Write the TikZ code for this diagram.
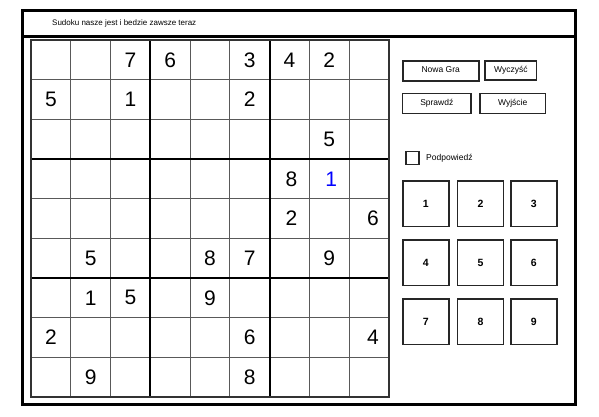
\documentclass[tikz,border=0pt]{standalone}
\usepackage{fontspec}
\setmainfont{Liberation Sans}
\usetikzlibrary{positioning}

\tikzset{
  cellnum/.style={font=\fontsize{21}{24}\selectfont, inner sep=0pt},
  btn/.style={draw=black!85, line width=1.6pt, fill=white, inner sep=0pt, text height=6.3pt, text depth=1.8pt, font=\fontsize{8.5}{10}\selectfont},
  padkey/.style={draw=black!85, line width=1.6pt, inner sep=0pt, minimum width=46pt, minimum height=45.7pt, font=\bfseries\fontsize{10.5}{12}\selectfont}
}

\begin{document}
\begin{tikzpicture}[x=1pt,y=-1pt]
\useasboundingbox (0,0) rectangle (599,416);
% window frame and title bar
\draw [black, line width=3pt] (22,10) rectangle (575,404);
\draw [black, line width=3pt] (22,36) -- (577,36);
\node [anchor=west, inner sep=0pt, font=\fontsize{8}{9.6}\selectfont] (title) at (52,23.5) {Sudoku nasze jest i bedzie zawsze teraz};
% sudoku board
\begin{scope}[shift={(31,40)}, x=39.75pt, y=-39.67pt]
\foreach \i in {1,2,4,5,7,8} {
  \draw [black!65, line width=1pt] (\i,0) -- (\i,9);
  \draw [black!65, line width=1pt] (0,\i) -- (9,\i);
}
\draw [black, line width=2pt] (3,0) -- (3,9);
\draw [black, line width=2pt] (6,0) -- (6,9);
\draw [black, line width=2pt] (0,3) -- (9,3);
\draw [black, line width=2pt] (0,6) -- (9,6);
\draw [black!80, line width=2pt] (0,0) rectangle (9,9);
% given digits
\node [cellnum] (r1c3) at (2.5,0.5) {7};
\node [cellnum] (r1c4) at (3.5,0.5) {6};
\node [cellnum] (r1c6) at (5.5,0.5) {3};
\node [cellnum] (r1c7) at (6.5,0.5) {4};
\node [cellnum] (r1c8) at (7.5,0.5) {2};
\node [cellnum] (r2c1) at (0.5,1.5) {5};
\node [cellnum] (r2c3) at (2.5,1.5) {1};
\node [cellnum] (r2c6) at (5.5,1.5) {2};
\node [cellnum] (r3c8) at (7.5,2.5) {5};
\node [cellnum] (r4c7) at (6.55,3.5) {8};
\node [cellnum, text=blue] (r4c8) at (7.55,3.5) {1};
\node [cellnum] (r5c7) at (6.55,4.5) {2};
\node [cellnum] (r5c9) at (8.6,4.5) {6};
\node [cellnum] (r6c2) at (1.5,5.5) {5};
\node [cellnum] (r6c5) at (4.5,5.5) {8};
\node [cellnum] (r6c6) at (5.5,5.5) {7};
\node [cellnum] (r6c8) at (7.5,5.5) {9};
\node [cellnum] (r7c2) at (1.5,6.5) {1};
\node [cellnum] (r7c3) at (2.5,6.5) {5};
\node [cellnum] (r7c5) at (4.5,6.5) {9};
\node [cellnum] (r8c1) at (0.5,7.5) {2};
\node [cellnum] (r8c6) at (5.5,7.5) {6};
\node [cellnum] (r8c9) at (8.6,7.5) {4};
\node [cellnum] (r9c2) at (1.5,8.5) {9};
\node [cellnum] (r9c6) at (5.5,8.5) {8};
\end{scope}
% buttons
\node [btn, minimum width=76pt, minimum height=20pt] (nowagra) at (440.7,70.7) {Nowa Gra};
\node [btn, minimum width=51.7pt, minimum height=19.5pt] (wyczysc) at (510.8,70.5) {Wyczyść};
\node [btn, minimum width=68.3pt, minimum height=20pt] (sprawdz) at (436.8,103.3) {Sprawdź};
\node [btn, minimum width=65.3pt, minimum height=20pt] (wyjscie) at (512.7,103.3) {Wyjście};
% hint checkbox
\node [draw=black!85, line width=1.4pt, minimum width=13pt, minimum height=12.7pt, inner sep=0pt] (hintbox) at (412.3,158) {};
\node [anchor=west, inner sep=0pt, font=\fontsize{8.5}{10}\selectfont] (hintlabel) at (426,158) {Podpowiedź};
% number pad
\node [padkey] (key1) at (425.8,203.8) {1};
\node [padkey] (key2) at (480.5,203.8) {2};
\node [padkey] (key3) at (533.7,203.8) {3};
\node [padkey] (key4) at (425.8,262.8) {4};
\node [padkey] (key5) at (480.5,262.8) {5};
\node [padkey] (key6) at (533.7,262.8) {6};
\node [padkey] (key7) at (425.8,321.7) {7};
\node [padkey] (key8) at (480.5,321.7) {8};
\node [padkey] (key9) at (533.7,321.7) {9};
\end{tikzpicture}
\end{document}
